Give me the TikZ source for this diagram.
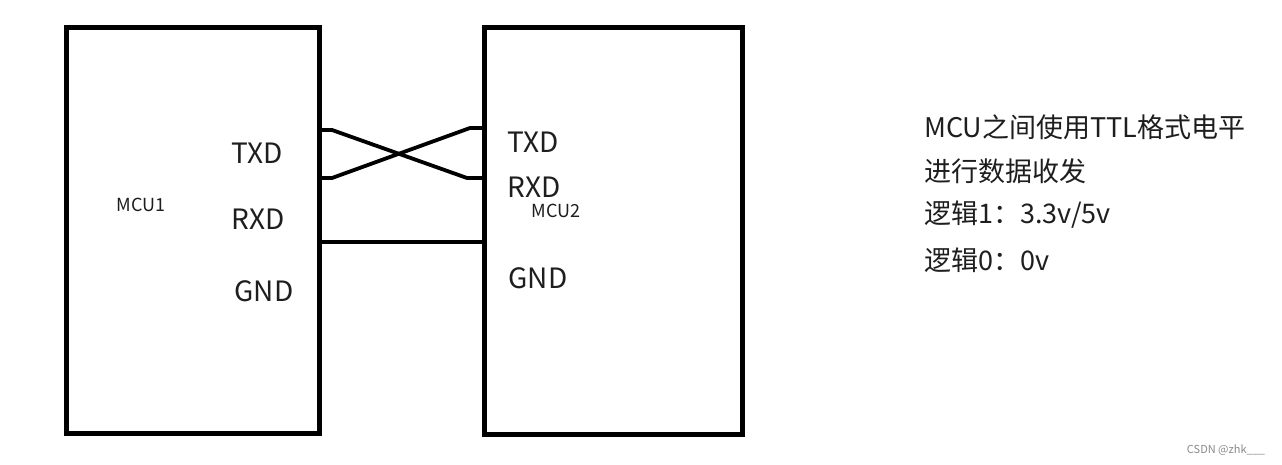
\documentclass[tikz,border=0pt]{standalone}
\usepackage{fontspec}
\setmainfont{Noto Sans CJK SC}
\definecolor{ink}{HTML}{1E1E1E}
\definecolor{mark}{HTML}{8A8A8A}
\begin{document}
\begin{tikzpicture}[x=1pt,y=-1pt,
  mcubox/.style={draw=black,line width=4.5pt,minimum width=#1,inner sep=0pt},
  wire/.style={draw=black,line width=3.8pt,line join=round,line cap=round},
  pin/.style={text=ink,font=\fontsize{28}{30}\selectfont,inner sep=0pt},
  chip/.style={text=ink,font=\fontsize{18}{20}\selectfont,inner sep=0pt},
  note/.style={text=ink,font=\fontsize{27}{29}\selectfont,inner sep=0pt,anchor=west}]
\useasboundingbox (0,0) rectangle (1282,465);
\fill[white] (0,0) rectangle (1282,465);
% boxes
\node[mcubox=253pt,minimum height=406pt] (m1) at (193,230.5) {};
\node[mcubox=258pt,minimum height=407pt] (m2) at (613.5,231) {};
% labels
\node[chip] (l1) at (141,205) {MCU1};
\node[pin] (tx1) at (257,153) {TXD};
\node[pin] (rx1) at (258,219) {RXD};
\node[pin] (gn1) at (264,291) {GND};
\node[pin] (tx2) at (533,142) {TXD};
\node[pin] (rx2) at (534,187) {RXD};
\node[chip] (l2) at (556,211) {MCU2};
\node[pin] (gn2) at (538,278) {GND};
% wires
\coordinate (a1) at (332,130);
\coordinate (b1) at (467,178);
\coordinate (a2) at (332,178);
\coordinate (b2) at (470,128);
\coordinate (g) at (400,242);
\draw[wire] (m1.east|-a1) -- (a1) -- (b1) -- (m2.west|-b1);
\draw[wire] (m1.east|-a2) -- (a2) -- (b2) -- (m2.west|-b2);
\draw[wire] (m1.east|-g) -- (m2.west|-g);
% notes
\node[note] (n1) at (924,127) {MCU之间使用TTL格式电平};
\node[note] (n2) at (924,171) {进行数据收发};
\node[note] (n3) at (924,215) {逻辑1：3.3v/5v};
\node[note] (n4) at (924,260) {逻辑0：0v};
\node[text=mark,font=\fontsize{11}{12}\selectfont,inner sep=0pt] (wm) at (1226,450) {CSDN @zhk\_\_\_};
\end{tikzpicture}
\end{document}
